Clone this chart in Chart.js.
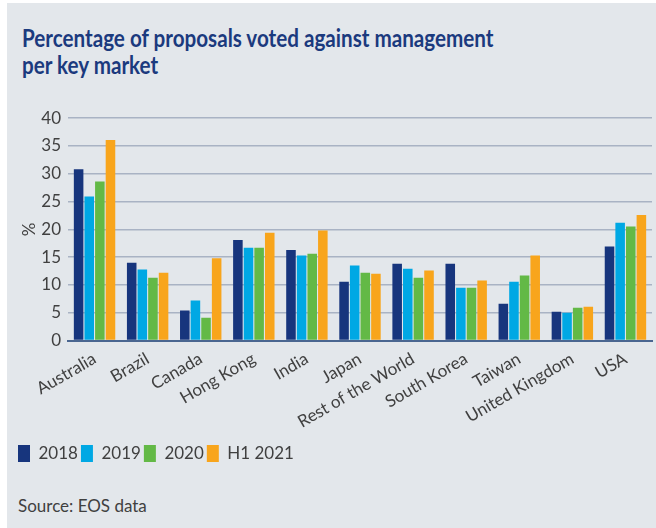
<!DOCTYPE html>
<html>
<head>
<meta charset="utf-8">
<script src="https://cdn.jsdelivr.net/npm/chart.js@4"></script>
<style>
    html, body {
        margin: 0;
        padding: 0;
        background: #ffffff;
    }
    #panel {
        position: absolute;
        left: 7px;
        top: 3px;
        width: 649px;
        height: 525px;
        background: #e3e7eb;
        font-family: "Lato", sans-serif;
        overflow: hidden;
    }
    #chartTitle {
        position: absolute;
        left: 15px;
        top: 21px;
        margin: 0;
        font-size: 24px;
        line-height: 27px;
        font-weight: 700;
        color: #1b3a7e;
        white-space: nowrap;
        transform: scaleX(0.86);
        transform-origin: left top;
    }
    #chartWrap {
        position: absolute;
        left: 0;
        top: 98px;
        width: 649px;
        height: 371px;
    }
    #source {
        position: absolute;
        left: 11px;
        top: 492px;
        font-size: 17px;
        color: #404040;
    }
</style>
</head>
<body>
<div id="panel">
    <h1 id="chartTitle">Percentage of proposals voted against management<br>per key market</h1>
    <div id="chartWrap"><canvas id="metricsChart"></canvas></div>
    <div id="source">Source: EOS data</div>
</div>
<script>
const markets = [
    "Australia", "Brazil", "Canada", "Hong Kong", "India", "Japan",
    "Rest of the World", "South Korea", "Taiwan", "United Kingdom", "USA",
];
const seriesNames = ["2018", "2019", "2020", "H1 2021"];
const values2018 = [30.8, 14.0, 5.4, 18.1, 16.3, 10.6, 13.8, 13.8, 6.6, 5.2, 16.9];
const values2019 = [25.9, 12.8, 7.2, 16.7, 15.3, 13.5, 12.9, 9.5, 10.6, 5.0, 21.2];
const values2020 = [28.6, 11.3, 4.1, 16.7, 15.6, 12.2, 11.3, 9.5, 11.7, 5.9, 20.5];
const valuesH12021 = [36.1, 12.2, 14.8, 19.4, 19.8, 12.0, 12.6, 10.8, 15.3, 6.1, 22.6];
const yTicks = [0, 5, 10, 15, 20, 25, 30, 35, 40];

const seriesColors = ["#17357d", "#00a8e4", "#63b946", "#f8a51c"];
const allValues = [values2018, values2019, values2020, valuesH12021];

const textColor = "#404040";
const fontFamily = "Lato, sans-serif";

const datasets = seriesNames.map((name, i) => ({
    label: name,
    data: allValues[i],
    backgroundColor: seriesColors[i],
    borderWidth: 0,
    categoryPercentage: 0.8,
    barPercentage: 0.9,
}));

const ctx = document.getElementById("metricsChart");

const metricsChart = new Chart(ctx, {
    type: "bar",
    data: {
        labels: markets,
        datasets,
    },
    options: {
        responsive: true,
        maintainAspectRatio: false,
        animation: false,
        layout: {
            padding: { left: 8, right: 4, top: 8, bottom: 0 },
        },
        scales: {
            x: {
                grid: { display: false },
                border: { color: "#4a6690", width: 2 },
                afterFit: (axis) => {
                    axis.paddingLeft = 0;
                    axis.paddingRight = 0;
                    axis.height += 10;
                },
                ticks: {
                    color: textColor,
                    font: { family: fontFamily, size: 17 },
                    minRotation: 30,
                    maxRotation: 30,
                    padding: 0,
                },
            },
            y: {
                min: 0,
                max: 40,
                afterBuildTicks: (axis) => {
                    axis.ticks = yTicks.map((v) => ({ value: v }));
                },
                afterFit: (axis) => {
                    axis.width = 53;
                },
                grid: {
                    color: "#a9b3c4",
                    lineWidth: 1.5,
                    drawTicks: false,
                },
                border: { display: false },
                ticks: {
                    color: textColor,
                    font: { family: fontFamily, size: 17 },
                    padding: 7,
                },
                title: {
                    display: true,
                    text: "%",
                    color: textColor,
                    font: { family: fontFamily, size: 17 },
                    padding: { top: 4, bottom: 0 },
                },
            },
        },
        plugins: {
            legend: {
                position: "bottom",
                align: "start",
                labels: {
                    color: textColor,
                    font: { family: fontFamily, size: 17 },
                    boxWidth: 12,
                    boxHeight: 17,
                    padding: 3,
                },
            },
            tooltip: { enabled: false },
        },
    },
});
</script>
</body>
</html>
